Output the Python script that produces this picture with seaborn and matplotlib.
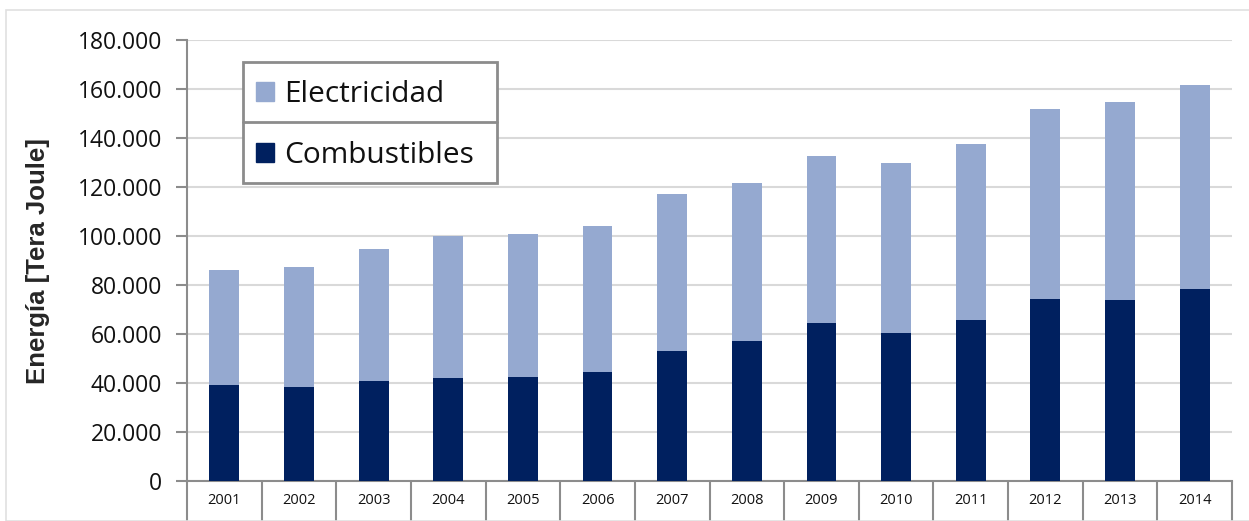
import numpy as np
import pandas as pd
import matplotlib
matplotlib.use('Agg')
import matplotlib.pyplot as plt
import seaborn as sns
from matplotlib.lines import Line2D
from matplotlib.patches import Patch, Rectangle
from matplotlib.ticker import FuncFormatter, FixedLocator

# Datos (Tera Joule)
years = ['2001', '2002', '2003', '2004', '2005', '2006', '2007',
         '2008', '2009', '2010', '2011', '2012', '2013', '2014']
combustibles = [39100, 38200, 40700, 42000, 42300, 44400, 53100,
                57100, 64400, 60500, 65700, 74400, 73900, 78400]
total = [86000, 87500, 94500, 100000, 101000, 104000, 117000,
         121800, 132700, 129700, 137400, 151800, 154700, 161600]

df = pd.DataFrame({'Año': years, 'Combustibles': combustibles, 'Total': total})

c_elec = '#95a9d0'
c_comb = '#00205f'
grey = '#8c8c8c'

sns.set_style('white')
plt.rcParams['font.family'] = ['Open Sans', 'DejaVu Sans']

W, H = 1249, 521
fig = plt.figure(figsize=(W / 100, H / 100), dpi=100)
ax = fig.add_axes([187 / W, 1 - 481 / H, (1232 - 187) / W, (481 - 40) / H])

# Electricidad se apila encima: dibujar el total primero
sns.barplot(data=df, x='Año', y='Total', color=c_elec, width=0.40,
            saturation=1, linewidth=0, ax=ax, zorder=2)
sns.barplot(data=df, x='Año', y='Combustibles', color=c_comb, width=0.40,
            saturation=1, linewidth=0, ax=ax, zorder=3)

ax.set_ylim(0, 180000)
ax.set_xlim(-0.5, len(years) - 0.5)
ax.set_yticks(np.arange(0, 180001, 20000))
ax.yaxis.set_major_formatter(FuncFormatter(lambda v, p: f'{int(v):,}'.replace(',', '.')))
ax.grid(axis='y', color='#d9d9d9', lw=1.5, zorder=0)
ax.set_axisbelow(True)

for s in ['top', 'right']:
    ax.spines[s].set_visible(False)
for s in ['left', 'bottom']:
    ax.spines[s].set_color(grey)
    ax.spines[s].set_linewidth(1.5)

ax.tick_params(axis='y', length=8, width=1.5, color=grey, labelsize=16.5,
               labelcolor='#111111', pad=10, left=True)
ax.tick_params(axis='x', which='major', length=0, labelsize=10.5,
               labelcolor='#111111', pad=9)
ax.xaxis.set_minor_locator(FixedLocator(np.arange(-0.5, len(years), 1)))
ax.tick_params(axis='x', which='minor', length=31, width=1.5, color=grey, bottom=True)

ax.set_xlabel('')
ax.set_ylabel('Energía [Tera Joule]', fontsize=18.5, fontweight='bold',
              family=['Liberation Sans', 'DejaVu Sans'], labelpad=20)

# leyenda: caja dibujada a mano con una linea entre filas
fig.add_artist(Rectangle((243 / W, 1 - 183 / H), (497 - 243) / W, (183 - 62) / H,
                         transform=fig.transFigure, fill=True, facecolor='white',
                         edgecolor=grey, lw=2, zorder=5))
fig.add_artist(Line2D([243 / W, 497 / W], [1 - 122 / H, 1 - 122 / H],
                      transform=fig.transFigure, color=grey, lw=2, zorder=6))

handles = [Patch(color=c_elec, label='Electricidad'),
           Patch(color=c_comb, label='Combustibles')]
leg = fig.legend(handles=handles, loc='center left',
                 bbox_to_anchor=(256 / W, 1 - 125 / H), bbox_transform=fig.transFigure,
                 fontsize=21.5, frameon=False, handlelength=0.6,
                 handleheight=0.6, handletextpad=0.35, labelspacing=1.05,
                 borderpad=0, borderaxespad=0)
leg.set_zorder(7)
for t in leg.get_texts():
    t.set_color('#111111')

# marco exterior del grafico
fig.add_artist(Rectangle((6 / W, 0), 1.0, 1 - 10 / H, transform=fig.transFigure,
                         fill=False, edgecolor='#e0e0e0', lw=1.2))

fig.savefig('out.png', dpi=100)
